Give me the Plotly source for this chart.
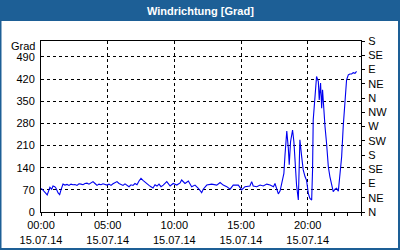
import plotly.graph_objects as go

times = ["00:01","00:09","00:18","00:28","00:36","00:40","00:48","00:54","01:02","01:07",
         "01:17","01:24","01:30","01:39","01:48","01:57","02:06","02:15","02:24","02:33",
         "02:42","02:51","03:00","03:09","03:18","03:27","03:36","03:45","03:54","04:03",
         "04:12","04:21","04:30","04:39","04:48","04:57","05:06","05:15","05:24","05:33",
         "05:42","05:51","06:00","06:09","06:18","06:27","06:36","06:45","06:54","07:03",
         "07:12","07:21","07:30","07:39","07:48","07:57","08:06","08:15","08:24","08:33",
         "08:42","08:51","09:00","09:10","09:26","09:41","09:55","10:11","10:26","10:33",
         "10:48","11:03","11:18","11:33","11:48","12:03","12:10","12:26","12:48","13:11",
         "13:26","13:40","13:56","14:11","14:25","14:48","15:03","15:18","15:40","15:48",
         "15:55","16:11","16:26","16:40","16:56","17:11","17:26","17:33","17:48","17:56",
         "18:03","18:13","18:18","18:26","18:33","18:37","18:43","18:52","18:58","19:03",
         "19:10","19:18","19:25","19:33","19:40","19:48","19:55","20:03","20:10","20:18",
         "20:22","20:25","20:33","20:40","20:48","20:52","20:58","21:03","21:07","21:13",
         "21:18","21:25","21:33","21:40","21:48","21:55","22:03","22:10","22:18","22:25",
         "22:33","22:40","22:48","22:55","23:03","23:10","23:18","23:25","23:33","23:40"]
grad = [75,70,62,54,70,78,72,82,80,76,
        60,55,70,88,85,87,84,88,86,87,
        84,89,88,86,90,91,88,93,96,90,
        84,88,86,89,87,85,88,84,89,92,
        96,90,87,84,89,85,80,86,84,90,
        86,98,106,100,94,88,84,80,76,86,
        82,88,80,85,96,82,90,85,92,101,
        90,98,80,85,75,61,72,85,88,85,
        93,85,80,72,85,85,70,80,82,96,
        82,80,85,82,88,85,80,90,57,67,
        88,122,180,256,201,149,222,259,222,149,
        85,38,228,175,133,112,100,59,43,38,
        133,291,375,428,412,354,407,328,386,301,
        270,217,143,112,80,64,72,75,66,122,
        175,270,354,417,433,436,436,440,438,444]

day = "2014-07-15"
x_ticks = ["00:00", "05:00", "10:00", "15:00", "20:00"]
date_label = "15.07.14"
left_ticks = [0, 70, 140, 210, 280, 350, 420, 490]
right_ticks = [0, 45, 90, 135, 180, 225, 270, 315, 360, 405, 450, 495, 540]
right_labels = ["N", "NE", "E", "SE", "S", "SW", "W", "NW", "N", "NE", "E", "SE", "S"]
title = "Windrichtung [Grad]"
y_unit = "Grad"

FONT = "Liberation Sans, Arial, sans-serif"
BLUE = "#1d5f96"
DASH = "3px,3px"

fig = go.Figure()
fig.add_trace(go.Scatter(
    x=[f"{day} {t}" for t in times], y=grad, mode="lines",
    line=dict(color="#0000f0", width=1.1), hoverinfo="skip", showlegend=False))
fig.add_trace(go.Scatter(x=[f"{day} 00:00"], y=[0], yaxis="y2", mode="markers",
                         marker=dict(opacity=0), hoverinfo="skip", showlegend=False))

L, R, T, B = 41, 39, 41, 38
W, H = 400, 250
pw, ph = W - L - R, H - T - B
def px(xp):
    return (xp - L) / pw
def py(yp):
    return (H - B - yp) / ph

fig.update_layout(
    width=W, height=H, margin=dict(l=L, r=R, t=T, b=B, pad=0, autoexpand=False),
    paper_bgcolor=BLUE, plot_bgcolor="white",
    font=dict(family=FONT, size=11, color="black"),
    xaxis=dict(type="date", range=[f"{day} 00:00", "2014-07-16 00:00"],
               tickvals=[f"{day} {t}" for t in x_ticks],
               ticktext=[f"{t}<br>{date_label}" for t in x_ticks],
               ticks="outside", ticklen=3, tickcolor="black",
               minor=dict(dtick=3600000, ticks="outside", ticklen=3, tickcolor="black", showgrid=False),
               showgrid=True, gridcolor="black", griddash=DASH, gridwidth=1,
               showline=True, linecolor="black", linewidth=1, mirror=True,
               zeroline=False, fixedrange=True, automargin=False),
    yaxis=dict(range=[0, 540], tickvals=left_ticks, ticks="", ticklabelstandoff=3,
               showgrid=True, gridcolor="black", griddash=DASH, gridwidth=1,
               showline=True, linecolor="black", linewidth=1, mirror=True,
               zeroline=False, fixedrange=True, automargin=False),
    yaxis2=dict(range=[0, 540], overlaying="y", side="right",
                tickvals=right_ticks, ticktext=right_labels,
                ticks="outside", ticklen=3, tickcolor="black", ticklabelstandoff=1,
                showgrid=False, zeroline=False, showline=False, fixedrange=True,
                automargin=False),
)

fig.add_shape(type="rect", xref="paper", yref="paper", layer="below",
              x0=px(1.5), x1=px(398), y0=py(248), y1=py(21),
              fillcolor="white", line=dict(width=0))

fig.add_annotation(text=f"<b>{title}</b>", xref="paper", yref="paper",
                   x=px(200), y=py(11), xanchor="center", yanchor="middle",
                   showarrow=False, font=dict(family=FONT, size=11, color="white"))
fig.add_annotation(text=y_unit, xref="paper", yref="paper",
                   x=px(37), y=py(46), xanchor="right", yanchor="middle",
                   showarrow=False, font=dict(family=FONT, size=11, color="black"))

fig.write_html("out.html")
